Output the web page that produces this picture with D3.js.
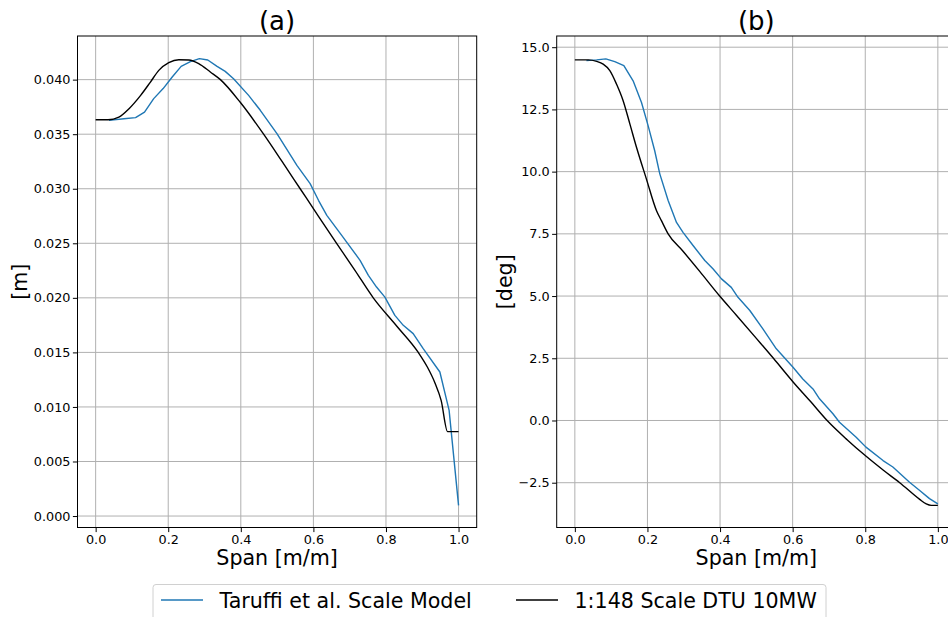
<!DOCTYPE html>
<html>
<head>
<meta charset="utf-8">
<script src="https://cdn.jsdelivr.net/npm/d3@7"></script>
<style>
  html, body { margin: 0; padding: 0; background: #fff; }
  svg { display: block; font-family: "DejaVu Sans", sans-serif; }
</style>
</head>
<body>
<svg id="chart" width="948" height="617"></svg>
<script>
// Spanwise position (normalised) and values for each series
const spanDeflTaruffi = [0.0366, 0.078, 0.11, 0.1347, 0.160, 0.186, 0.211, 0.2356, 0.261, 0.286, 0.309, 0.3346, 0.357, 0.38, 0.4215, 0.4537, 0.4996, 0.5546, 0.591, 0.614, 0.637, 0.678, 0.7286, 0.7515, 0.774, 0.797, 0.8245, 0.8477, 0.875, 0.9026, 0.9485, 0.974, 1.0];
const deflTaruffi = [0.03627, 0.03642, 0.03652, 0.03703, 0.03826, 0.03918, 0.04024, 0.04122, 0.04165, 0.04193, 0.0418, 0.04122, 0.04076, 0.04009, 0.03856, 0.03719, 0.03505, 0.03215, 0.03047, 0.02894, 0.02756, 0.02573, 0.02344, 0.02206, 0.02099, 0.02007, 0.01839, 0.01748, 0.01672, 0.01534, 0.0132, 0.00969, 0.00098];

const spanDeflDTU = [0, 0.034, 0.064, 0.092, 0.124, 0.151, 0.174, 0.2015, 0.229, 0.2566, 0.284, 0.316, 0.3438, 0.399, 0.4628, 0.5136, 0.5636, 0.6136, 0.664, 0.715, 0.765, 0.83, 0.889, 0.914, 0.935, 0.952, 0.9698, 1.0];
const deflDTU = [0.03633, 0.03633, 0.03657, 0.03734, 0.03856, 0.03978, 0.04085, 0.04156, 0.04183, 0.0418, 0.04147, 0.0407, 0.0400, 0.0379, 0.0350, 0.0325, 0.0300, 0.0275, 0.0250, 0.0225, 0.0200, 0.0174, 0.0150, 0.01366, 0.0122, 0.0106, 0.00774, 0.00774];

const spanTwistTaruffi = [0.032, 0.06, 0.0853, 0.11, 0.135, 0.1605, 0.1836, 0.2018, 0.22, 0.234, 0.257, 0.28, 0.298, 0.3256, 0.358, 0.381, 0.404, 0.431, 0.4495, 0.482, 0.518, 0.555, 0.601, 0.628, 0.656, 0.674, 0.711, 0.729, 0.775, 0.802, 0.849, 0.876, 0.922, 0.95, 0.977, 1.0];
const twistTaruffi = [14.46, 14.49, 14.53, 14.42, 14.26, 13.65, 12.78, 11.85, 10.84, 9.91, 8.84, 7.96, 7.56, 7.03, 6.43, 6.09, 5.69, 5.35, 4.95, 4.42, 3.68, 2.88, 2.14, 1.67, 1.27, 0.87, 0.27, -0.07, -0.67, -1.07, -1.61, -1.87, -2.48, -2.81, -3.14, -3.35];

const spanTwistDTU = [0, 0.037, 0.06, 0.078, 0.0964, 0.1147, 0.133, 0.1515, 0.1698, 0.197, 0.225, 0.2385, 0.257, 0.298, 0.344, 0.399, 0.445, 0.5, 0.547, 0.6, 0.65, 0.695, 0.75, 0.8, 0.85, 0.895, 0.95, 0.968, 0.982, 1.0];
const twistDTU = [14.49, 14.49, 14.43, 14.32, 14.06, 13.52, 12.85, 11.92, 10.98, 9.71, 8.43, 8.03, 7.5, 6.80, 5.99, 5.0, 4.23, 3.30, 2.5, 1.57, 0.75, 0.0, -0.77, -1.41, -2.0, -2.5, -3.17, -3.35, -3.41, -3.41];

// Tick labels
const spanTicks = [0, 0.2, 0.4, 0.6, 0.8, 1.0];
const deflTicks = [0, 0.005, 0.01, 0.015, 0.02, 0.025, 0.03, 0.035, 0.04];
const twistTicks = [-2.5, 0, 2.5, 5, 7.5, 10, 12.5, 15];

const seriesNames = ["Taruffi et al. Scale Model", "1:148 Scale DTU 10MW"];
const seriesColors = ["#1f77b4", "#000000"];

const svg = d3.select("#chart");
const TICK_FONT = 12.8, LABEL_FONT = 20.6, TITLE_FONT = 26;

function panel(opt) {
  const { left, right, top, bottom } = opt;
  const x = d3.scaleLinear().domain([-0.05, 1.05]).range([left, right]);
  const y = d3.scaleLinear().domain(opt.yDomain).range([bottom, top]);
  const g = svg.append("g");

  // grid
  const grid = g.append("g").attr("stroke", "#b0b0b0").attr("stroke-width", 1);
  spanTicks.forEach(t => grid.append("line")
    .attr("x1", x(t)).attr("x2", x(t)).attr("y1", top).attr("y2", bottom));
  opt.yTicks.forEach(t => grid.append("line")
    .attr("x1", left).attr("x2", right).attr("y1", y(t)).attr("y2", y(t)));

  // curves
  const series = [
    { xs: opt.xs[0], ys: opt.ys[0], color: seriesColors[0], curve: d3.curveLinear },
    { xs: opt.xs[1], ys: opt.ys[1], color: seriesColors[1], curve: d3.curveMonotoneX }
  ];
  series.forEach(s => {
    const pts = s.xs.map((v, i) => [v, s.ys[i]]);
    g.append("path")
      .attr("d", d3.line().x(d => x(d[0])).y(d => y(d[1])).curve(s.curve)(pts))
      .attr("fill", "none").attr("stroke", s.color).attr("stroke-width", 1.4)
      .attr("stroke-linejoin", "round");
  });

  // axes
  const xAxis = g.append("g").attr("transform", `translate(0,${bottom})`)
    .call(d3.axisBottom(x).tickValues(spanTicks).tickFormat(d3.format(".1f"))
      .tickSize(4.6).tickPadding(3.2).tickSizeOuter(0));
  const yAxis = g.append("g").attr("transform", `translate(${left},0)`)
    .call(d3.axisLeft(y).tickValues(opt.yTicks).tickFormat(opt.yFormat)
      .tickSize(4.6).tickPadding(2.4).tickSizeOuter(0));
  [xAxis, yAxis].forEach(a => {
    a.select(".domain").remove();
    a.selectAll("line").attr("stroke", "#000").attr("stroke-width", 1);
    a.selectAll("text").attr("font-size", TICK_FONT).attr("fill", "#000")
      .attr("font-family", "DejaVu Sans, sans-serif");
  });

  // frame
  g.append("rect").attr("x", left).attr("y", top)
    .attr("width", right - left).attr("height", bottom - top)
    .attr("fill", "none").attr("stroke", "#000").attr("stroke-width", 1);

  // labels
  g.append("text").attr("x", (left + right) / 2).attr("y", 29.5)
    .attr("text-anchor", "middle").attr("font-size", TITLE_FONT).text(opt.title);
  g.append("text").attr("x", (left + right) / 2).attr("y", 565)
    .attr("text-anchor", "middle").attr("font-size", LABEL_FONT).text("Span [m/m]");
  g.append("text")
    .attr("transform", `translate(${opt.yLabelX},${(top + bottom) / 2}) rotate(-90)`)
    .attr("text-anchor", "middle").attr("dominant-baseline", "central")
    .attr("font-size", LABEL_FONT).text(opt.yLabel);
}

panel({
  left: 77.5, right: 476.7, top: 36, bottom: 527.5,
  yDomain: [-0.00105, 0.0440], yTicks: deflTicks, yFormat: d3.format(".3f"),
  xs: [spanDeflTaruffi, spanDeflDTU], ys: [deflTaruffi, deflDTU],
  title: "(a)", yLabel: "[m]", yLabelX: 20
});

panel({
  left: 556.7, right: 956, top: 36, bottom: 527.5,
  yDomain: [-4.30, 15.45], yTicks: twistTicks, yFormat: d3.format(".1f"),
  xs: [spanTwistTaruffi, spanTwistDTU], ys: [twistTaruffi, twistDTU],
  title: "(b)", yLabel: "[deg]", yLabelX: 505
});

// legend
const leg = svg.append("g");
leg.append("rect").attr("x", 153).attr("y", 584.5).attr("width", 673).attr("height", 40)
  .attr("rx", 3).attr("fill", "#fff").attr("fill-opacity", 0.8)
  .attr("stroke", "#d0d0d0").attr("stroke-width", 1);
const legItems = [{ x1: 161, textX: 219.5 }, { x1: 516, textX: 574.5 }];
legItems.forEach((it, i) => {
  leg.append("line").attr("x1", it.x1).attr("x2", it.x1 + 42)
    .attr("y1", 600).attr("y2", 600)
    .attr("stroke", seriesColors[i]).attr("stroke-width", 1.4);
  leg.append("text").attr("x", it.textX).attr("y", 607.5)
    .attr("font-size", LABEL_FONT).text(seriesNames[i]);
});
</script>
</body>
</html>
